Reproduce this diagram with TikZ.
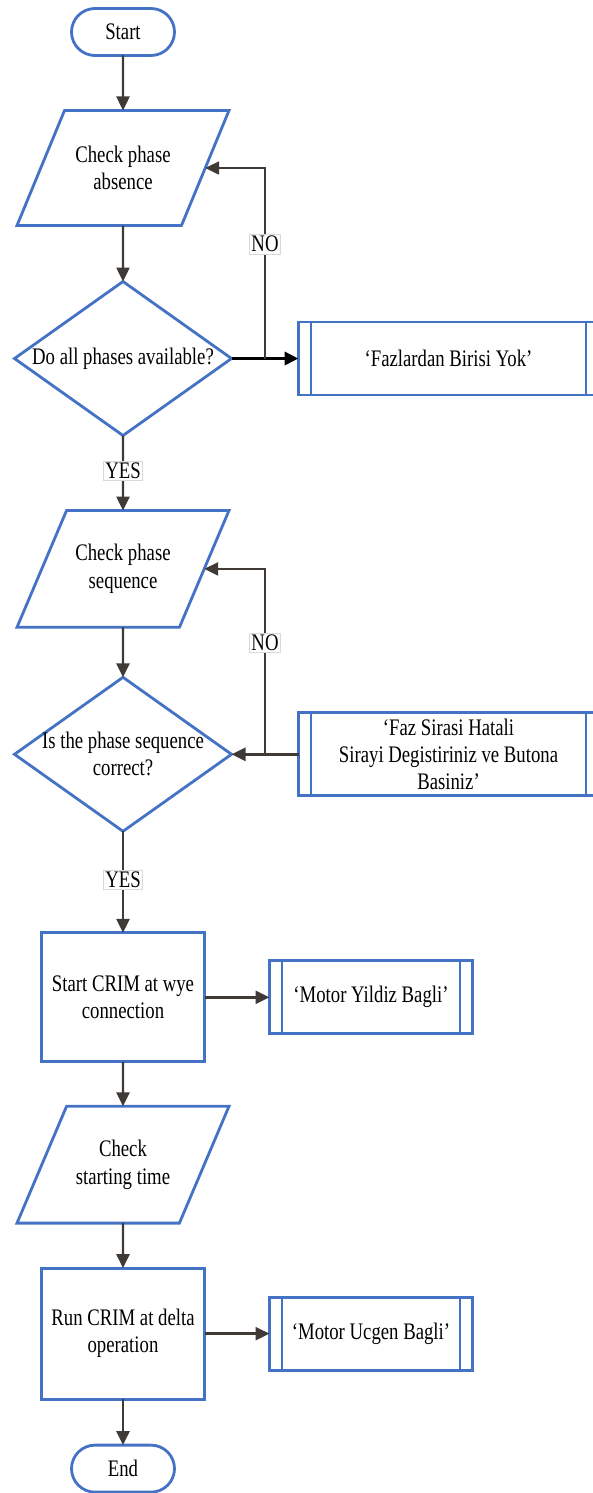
\documentclass[tikz,border=0pt]{standalone}
\usepackage{xcolor}
\usepackage{fontspec}
\setmainfont{Liberation Serif}[FakeStretch=0.79]
\usepackage{tikz}
\usetikzlibrary{shapes.geometric,arrows.meta,positioning,calc}
\definecolor{flowBlue}{HTML}{4472C4}
\definecolor{arrowGray}{HTML}{3F3A36}

\begin{document}
\begin{tikzpicture}[
    node distance = 1cm,
    align=center,
    outer sep=0pt,
    font=\fontsize{13.5}{15.5}\selectfont,
    terminal/.style = {rectangle, draw=flowBlue, line width=1.6pt, rounded corners=0.47cm, minimum width=2.06cm, minimum height=0.94cm},
    io/.style = {trapezium, trapezium left angle=67, trapezium right angle=113, trapezium stretches body, draw=flowBlue, line width=1.6pt, minimum width=4.24cm, minimum height=2.3cm, inner xsep=0pt, inner ysep=0.68cm},
    decision/.style = {diamond, draw=flowBlue, line width=1.6pt, minimum width=4.34cm, minimum height=3.08cm, inner xsep=-0.2cm, inner ysep=-0.1cm, aspect=1.4},
    process/.style = {rectangle, draw=flowBlue, line width=1.6pt, minimum width=3.26cm, minimum height=2.58cm},
    message/.style = {rectangle, draw=flowBlue, line width=1.6pt, minimum height=1.46cm,
        path picture={\draw[flowBlue, line width=1.6pt]
            ([xshift=0.25cm]path picture bounding box.north west) -- ([xshift=0.25cm]path picture bounding box.south west)
            ([xshift=-0.25cm]path picture bounding box.north east) -- ([xshift=-0.25cm]path picture bounding box.south east);}},
    arrow/.style = {->, >={Triangle[length=0.28cm, width=0.26cm]}, line width=1.4pt, color=arrowGray},
    tag/.style = {fill=white, draw=black!15, line width=0.4pt, inner sep=1pt, text=black}
]
    \useasboundingbox (0,0) rectangle (11.84,-29.86);

    % Main column
    \node [terminal] at (2.46,-0.64) (start) {Start};
    \node [io, below=1.10cm of start] (absence) {Check phase\\absence};
    \node [decision, below=1.12cm of absence] (allphases) {Do all phases available?};
    \node [io, below=1.50cm of allphases] (sequence) {Check phase\\sequence};
    \node [decision, below=1.00cm of sequence] (correct) {Is the phase sequence\\correct?};
    \node [process, below=2.03cm of correct] (wye) {Start CRIM at wye\\connection};
    \node [io, below=0.89cm of wye] (time) {Check\\starting time};
    \node [process, below=0.90cm of time, minimum height=2.62cm] (delta) {Run CRIM at delta\\operation};
    \node [terminal, below=0.92cm of delta] (end) {End};

    % Messages
    \node [message, right=1.34cm of allphases, minimum width=6cm] (nophase) {`Fazlardan Birisi Yok'};
    \node [message, right=1.34cm of correct, minimum width=6cm, minimum height=1.66cm] (wrongseq) {`Faz Sirasi Hatali\\Sirayi Degistiriniz ve Butona\\Basiniz'};
    \node [message, right=1.30cm of wye, minimum width=4.06cm] (wyemsg) {`Motor Yildiz Bagli'};
    \node [message, right=1.30cm of delta, minimum width=4.06cm] (deltamsg) {`Motor Ucgen Bagli'};

    % Connections
    \draw [arrow] (start) -- (absence);
    \draw [arrow] (absence) -- (allphases);
    \draw [arrow, black, line width=2.2pt] (allphases) -- (nophase);
    \coordinate (loopA) at ($(allphases.east)!0.5!(nophase.west)$);
    \draw [arrow] (loopA) |- node[tag, pos=0.3] {NO} (absence.east);
    \draw [arrow] (allphases) -- node[tag, pos=0.47] {YES} (sequence);
    \draw [arrow] (sequence) -- (correct);
    \draw [arrow] (wrongseq) -- (correct);
    \coordinate (loopB) at ($(correct.east)!0.5!(wrongseq.west)$);
    \draw [arrow] (loopB) |- node[tag, pos=0.3] {NO} (sequence.east);
    \draw [arrow] (correct) -- node[tag, pos=0.48] {YES} (wye);
    \draw [arrow] (wye) -- (wyemsg);
    \draw [arrow] (wye) -- (time);
    \draw [arrow] (time) -- (delta);
    \draw [arrow] (delta) -- (deltamsg);
    \draw [arrow] (delta) -- (end);
\end{tikzpicture}
\end{document}
